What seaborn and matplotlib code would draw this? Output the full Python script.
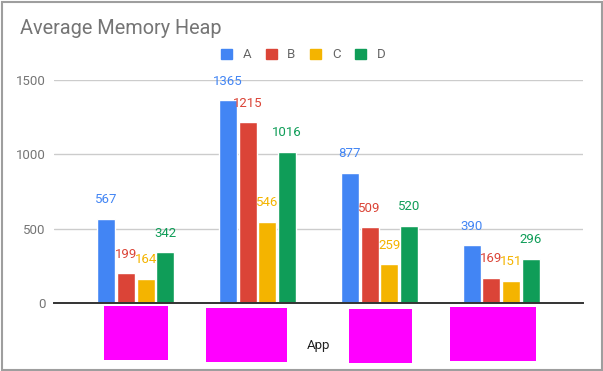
#!/usr/bin/env python3
from __future__ import annotations

import matplotlib
matplotlib.use("Agg")
import matplotlib.pyplot as plt
from matplotlib.patches import Rectangle
import pandas as pd
import seaborn as sns


# chart values
APPS = ["App 1", "App 2", "App 3", "App 4"]
SERIES = ["A", "B", "C", "D"]
A_VALUES = [567, 1365, 877, 390]
B_VALUES = [199, 1215, 509, 169]
C_VALUES = [164, 546, 259, 151]
D_VALUES = [342, 1016, 520, 296]
Y_TICKS = [0, 500, 1000, 1500]

COLORS = {"A": "#4285F4", "B": "#DB4437", "C": "#F4B400", "D": "#0F9D58"}

W, H = 603, 371
# redaction boxes over the category labels (pixel boxes: x0, y0, x1, y1)
REDACT = [(104, 306, 168, 360), (206, 308, 287, 362), (349, 309, 412, 363), (450, 307, 536, 361)]


def _build_frame() -> pd.DataFrame:
    rows = []
    for name, vals in zip(SERIES, [A_VALUES, B_VALUES, C_VALUES, D_VALUES]):
        for app, v in zip(APPS, vals):
            rows.append({"app": app, "series": name, "value": v})
    return pd.DataFrame(rows)


def main() -> None:
    sns.set_theme(style="white")
    plt.rcParams["font.family"] = ["Roboto", "DejaVu Sans"]

    df = _build_frame()
    fig = plt.figure(figsize=(W / 100, H / 100), dpi=100)
    ax = fig.add_axes([54 / W, 1 - 303 / H, (583 - 54) / W, (303 - 80) / H])

    sns.barplot(
        data=df, x="app", y="value", hue="series", hue_order=SERIES,
        palette=COLORS, width=0.65, gap=0.09, errorbar=None, ax=ax,
        saturation=1, legend=False,
    )

    for cont, name in zip(ax.containers, SERIES):
        ax.bar_label(cont, padding=9, color=COLORS[name], fontsize=9.5, clip_on=False)

    ax.set_xlim(-0.67, 3.67)
    ax.set_ylim(0, 1500)
    ax.set_yticks(Y_TICKS)
    ax.set_yticklabels([str(t) for t in Y_TICKS], color="#757575", fontsize=9.5)
    ax.set_xticks(range(len(APPS)))
    ax.set_xticklabels([""] * len(APPS))
    ax.tick_params(axis="both", length=0, pad=6)
    ax.yaxis.grid(True, color="#cccccc", linewidth=1)
    ax.set_axisbelow(True)
    for side in ["top", "right", "left"]:
        ax.spines[side].set_visible(False)
    ax.spines["bottom"].set_color("#333333")
    ax.spines["bottom"].set_linewidth(1.4)
    ax.set_ylabel("")
    ax.set_xlabel("")

    fig.text(20 / W, 1 - 28 / H, "Average Memory Heap", fontsize=14.3,
             color="#757575", va="center", ha="left")
    fig.text(318 / W, 1 - 345 / H, "App", fontsize=9.5, color="#222222",
             va="center", ha="center")

    handles = [Rectangle((0, 0), 1, 1, color=COLORS[s]) for s in SERIES]
    fig.legend(
        handles, SERIES, loc="center", bbox_to_anchor=(303 / W, 1 - 55 / H),
        ncol=4, frameon=False, handlelength=0.85, handleheight=0.85,
        handletextpad=0.8, columnspacing=1.1, labelcolor="#666666", fontsize=9.5,
    )

    for x0, y0, x1, y1 in REDACT:
        fig.patches.append(Rectangle((x0 / W, 1 - y1 / H), (x1 - x0) / W, (y1 - y0) / H,
                                     transform=fig.transFigure, facecolor="#ff00ff",
                                     edgecolor="none", zorder=5))
    fig.patches.append(Rectangle((1.5 / W, 1.5 / H), (W - 3) / W, (H - 3) / H,
                                 transform=fig.transFigure, facecolor="none",
                                 edgecolor="#9e9e9e", linewidth=1.5, zorder=6))

    fig.savefig("out.png", dpi=100)
    plt.close(fig)


if __name__ == "__main__":
    main()
